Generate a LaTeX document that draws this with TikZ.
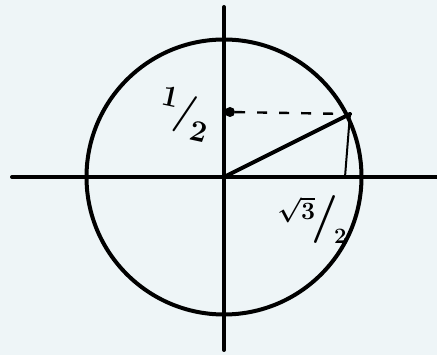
\documentclass[tikz,border=0pt]{standalone}
\usepackage{amsmath}
\definecolor{bg}{RGB}{238,245,247}
\tikzset{
  heavy/.style={line width=4pt, line cap=round},
  lbl/.style={inner sep=0pt, font=\fontsize{30}{30}\selectfont\bfseries\boldmath}
}
\begin{document}
\begin{tikzpicture}[x=1pt,y=-1pt]
\fill[bg] (0,0) rectangle (437,355);
\useasboundingbox (0,0) rectangle (437,355);
\coordinate (O) at (224,177);
\coordinate (P) at (350,114);
\coordinate (Pf) at (345,177);
\coordinate (L) at (12,177);
\coordinate (R) at (437,177);
\coordinate (T) at (224,7);
\coordinate (B) at (224,350);
\draw[heavy] (O) circle[radius=137.5];
\draw[heavy] (L) -- (R);
\draw[heavy] (T) -- (B);
\node[circle, fill=black, inner sep=0pt, minimum size=10pt] (dot) at (230,112) {};
\draw[line width=2.4pt, dash pattern=on 10pt off 12pt] (dot) -- (P);
\draw[line width=4pt, line cap=round] (O) -- (P);
\draw[line width=2pt] (P) -- (Pf);
\node[lbl, rotate=-12] (half) at (185,114)
  {\raisebox{14pt}{1}\kern-2pt\scalebox{1.3}{/}\kern-2pt\raisebox{-14pt}{2}};
\node[lbl] (root) at (312,220)
  {\raisebox{12pt}{$\sqrt{3}$}\kern-4pt\scalebox{1.6}{/}\kern-4pt\raisebox{-12pt}{\fontsize{22}{22}\selectfont 2}};
\end{tikzpicture}
\end{document}
